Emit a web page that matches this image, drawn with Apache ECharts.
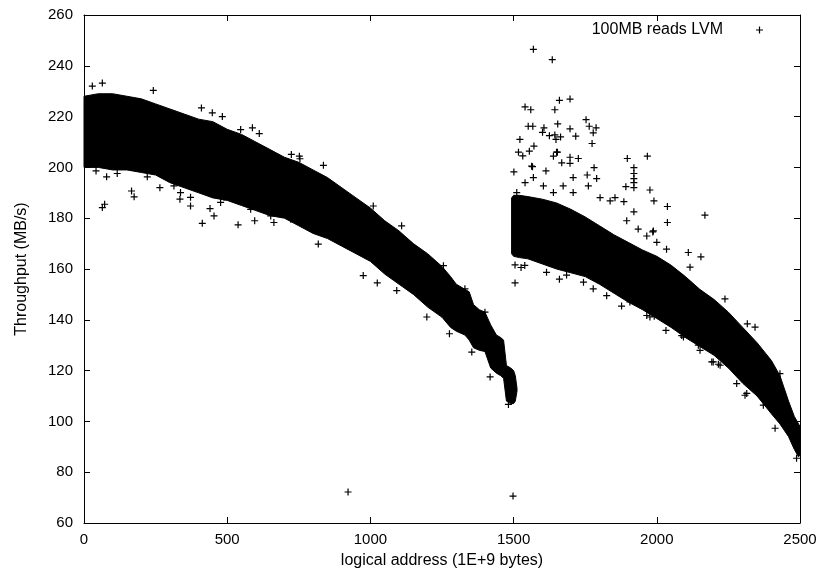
<!DOCTYPE html>
<html><head><meta charset="utf-8">
<script src="https://cdn.jsdelivr.net/npm/echarts@6/dist/echarts.min.js"></script>
<style>html,body{margin:0;padding:0;background:#fff}#c{width:821px;height:574px}</style>
</head><body><div id="c"></div>
<script>
// Dense core of first segment (envelope)
const seg1X  = [0,50,100,150,200,250,300,350,400,450,500,550,600,650,700,750,800,850,900,950,1000,1050,1100,1150,1200,1250,1280,1300,1330,1345,1360,1380,1400,1420,1440,1455,1465,1475,1490,1500,1506,1512];
const seg1Hi = [228,229,229,228,227,225,223,221,219,218,215,213,210,207,204,202,199,196,192,188,184,179,175,170,166,161,157,154,152,151,146,144,143,138,134,133,132,122,121,120,118,113];
const seg1Lo = [200,200,199,199,198,197,194,192,190,188,187,185,183,181,180,177,174,172,169,166,163,158,154,150,145,141,137,135.5,134,132,129,128,127.5,121,119,118,117,108,107,107,108,112];
// Dense core of second segment
const seg2X  = [1493,1500,1520,1550,1600,1650,1700,1750,1800,1850,1900,1950,2000,2050,2100,2150,2200,2250,2300,2350,2400,2430,2460,2480,2495,2500];
const seg2Hi = [188,189,189,188.5,187.5,186,183.5,180.5,177,173.5,170.5,167.5,165,161.5,157,152,148,143,137,131,124,118,108,102,99,98];
const seg2Lo = [166,165,164.5,164,162,160,158.5,157,154,150.5,147,144,140.5,137,133,129.5,126,121,115,110,103,99,94,89,86,87];
// Individually visible '+' samples
const pts = [
 [64,233.2],[29,232],[242,230.3],[410,223.4],[448,221.5],[483,220],[547,214.9],[588,215.6],[612,213.3],[724,205.1],[754,203.4],[752,204.4],[836,200.8],
 [64,184.2],[72,185.5],[166,190.7],[175,188.4],[265,192],[335,187.5],[372,184.8],[413,178],[440,183.8],[454,180.9],[538,177.4],[596,179],[663,178.3],
 [79,196.3],[42,198.6],[116,197.6],[221,196.3],[308,196.6],[314,192.7],[337,190.1],[372,188.2],[477,186.2],[489,188.2],[582,183.5],[652,180.9],[722,179.6],[687,184.8],
 [818,169.8],[975,157.4],[1024,154.5],[1092,151.5],[1197,141.1],[1276,134.5],[1354,127.3],[1418,117.5],[1482,106.7],
 [1010,184.8],[1109,177],[1255,161.3],[1330,152.2],[1400,143],
 [922,72.2],[1498,70.6],
 [1569,246.5],[1635,242.4],[1660,226.4],[1697,226.9],[1540,223.8],[1560,222.7],[1644,222.7],[1753,218.8],[1764,216.2],[1788,215.6],[1778,213.6],
 [1551,216.2],[1567,216.2],[1606,215.6],[1654,217.1],[1697,215.2],[1601,213.8],[1625,212.5],[1644,212.8],[1664,212],[1717,212.3],[1648,211],[1522,211],
 [1774,209.4],[1571,208.4],[1517,206],[1555,206.4],[1532,204.5],[1653,206],[1639,204.4],[1697,204],[1726,203.5],[1668,201.8],[1697,201.6],[1897,203.5],[1967,204.4],
 [1501,198.2],[1566,200.3],[1613,198.6],[1781,199.9],[1757,197],[1790,195.6],[1920,199.9],[1920,197.6],[1920,195.6],[1920,194],[1920,192],
 [1892,192.4],[1976,191.1],[1990,186.8],[2037,184.6],[2037,178.3],[1885,186.5],[1920,182.5],
 [1505,161.6],[1505,154.5],[1660,156],[1539,161.4],[1526,160.6],
 [2168,181.2],[1986,174.6],[2110,166.5],[2154,164.8],[2116,160.7],[2316,138.4],[2343,137.1],[2238,148.2],[2430,118.8],
 [2192,123.4],[2215,122.5],[2279,114.9],[2314,111],[2413,97.3],[1965,141.7],[1991,141.4],[2032,135.8],[2087,133.8],[2151,128],[2488,85.5],
 [1511,190.1],[1540,194],[1569,196],[1604,192.7],[1639,190.1],[1673,192.7],[1708,190.1],[1708,196],[1761,192.7],[1802,188.1],[1837,186.8],[1854,188.1],
 [1895,179],[1935,175.7],[1965,173],[1988,175],[2000,170.5],[2034,167.8],[1563,200.5],[1650,206],
 [1615,158.7],[1685,157.6],[1744,154.8],[1778,152.2],[1825,149.5],[1906,147],[1976,141.1],[2093,133.2],[2145,130],[2197,123.4],[2221,122.1],[2372,106.4],
 [1877,145.4],[2308,110.3]
];
const xTicks = {min:0, max:2500, interval:500};
const yTicks = {min:60, max:260, interval:20};
const seriesName = '100MB reads LVM';

const FONT = 'Liberation Sans, Arial, Helvetica, sans-serif';
const PLUS = 'path://M2.9,0L4.1,0L4.1,2.9L7,2.9L7,4.1L4.1,4.1L4.1,7L2.9,7L2.9,4.1L0,4.1L0,2.9L2.9,2.9Z';

function bandSeries(xs, hi, lo) {
  return {
    type: 'custom', silent: true, z: 1,
    data: xs.map((x, i) => [x, lo[i], hi[i]]),
    encode: {x: 0, y: [1, 2]},
    renderItem: function (params, api) {
      if (params.dataIndex !== 0) return null;
      const pts = [];
      for (let i = 0; i < xs.length; i++) pts.push(api.coord([xs[i], hi[i]]));
      for (let i = xs.length - 1; i >= 0; i--) pts.push(api.coord([xs[i], lo[i]]));
      return {type: 'polygon', shape: {points: pts},
              style: {fill: '#000', stroke: '#000', lineWidth: 1}};
    }
  };
}

const axisCommon = {
  axisLine: {show: true, onZero: false, lineStyle: {color: '#000', width: 1}},
  axisTick: {show: true, inside: true, length: 6, lineStyle: {color: '#000'}},
  splitLine: {show: false}
};
const plainNum = v => String(v);

const chart = echarts.init(document.getElementById('c'), null, {renderer: 'canvas'});
chart.setOption({
  animation: false,
  backgroundColor: '#fff',
  textStyle: {fontFamily: FONT},
  grid: {left: 84, right: 21, top: 15, bottom: 49},
  legend: {
    data: [{name: seriesName, icon: PLUS}],
    right: 58, top: 22, padding: 0, align: 'right',
    itemWidth: 7, itemHeight: 7,
    textStyle: {fontFamily: FONT, fontSize: 16, color: '#000', padding: [0, 28, 0, 0]}
  },
  xAxis: [
    Object.assign({type: 'value', position: 'bottom', min: xTicks.min, max: xTicks.max, interval: xTicks.interval,
      name: 'logical address (1E+9 bytes)', nameLocation: 'middle', nameGap: 30,
      nameTextStyle: {fontFamily: FONT, fontSize: 16, color: '#000'},
      axisLabel: {fontFamily: FONT, fontSize: 15, color: '#000', margin: 9, formatter: plainNum}}, axisCommon),
    Object.assign({type: 'value', position: 'top', min: xTicks.min, max: xTicks.max, interval: xTicks.interval,
      axisLabel: {show: false}}, axisCommon)
  ],
  yAxis: [
    Object.assign({type: 'value', position: 'left', min: yTicks.min, max: yTicks.max, interval: yTicks.interval,
      name: 'Throughput (MB/s)', nameLocation: 'middle', nameGap: 54, nameRotate: 90,
      nameTextStyle: {fontFamily: FONT, fontSize: 16, color: '#000'},
      axisLabel: {fontFamily: FONT, fontSize: 15, color: '#000', margin: 11, formatter: plainNum}}, axisCommon),
    Object.assign({type: 'value', position: 'right', min: yTicks.min, max: yTicks.max, interval: yTicks.interval,
      axisLabel: {show: false}}, axisCommon)
  ],
  series: [
    bandSeries(seg1X, seg1Hi, seg1Lo),
    bandSeries(seg2X, seg2Hi, seg2Lo),
    {type: 'scatter', name: seriesName, data: pts, symbol: PLUS, symbolSize: 7, z: 2,
     itemStyle: {color: '#000', opacity: 1}, silent: true}
  ]
});
</script></body></html>
